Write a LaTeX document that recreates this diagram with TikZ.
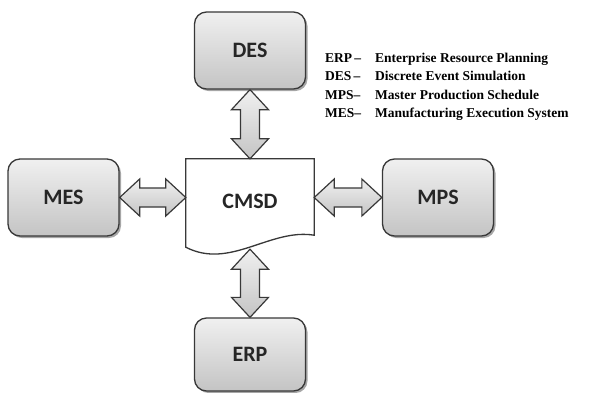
\documentclass[tikz,border=0pt]{standalone}
\usepackage{fontspec}
\setmainfont{Liberation Serif}
\newfontfamily\boxfont{Carlito}
\usetikzlibrary{calc,shadows}

\definecolor{edge}{HTML}{383838}
\definecolor{boxtop}{HTML}{F0F0F0}
\definecolor{boxbot}{HTML}{C4C4C4}

\tikzset{
  sysbox/.style={draw=edge, line width=1.3pt, rounded corners=12pt,
    top color=boxtop, bottom color=boxbot,
    drop shadow={shadow xshift=2pt, shadow yshift=-2pt, opacity=0.35, fill=black},
    minimum width=111pt, minimum height=77pt,
    font=\boxfont\bfseries\fontsize{22}{24}\selectfont, text=black!85},
  docbox/.style={minimum width=128pt, minimum height=90pt, inner sep=0pt,
    font=\boxfont\bfseries\fontsize{22}{24}\selectfont, text=black!85},
  % double-headed block arrow running from the start point to the target
  dblarrow/.style={draw=edge, line width=1.2pt, line join=miter,
    top color=boxtop, bottom color=boxbot,
    to path={
      -- ($(\tikztostart)!20pt!(\tikztotarget)!18.5pt!90:(\tikztotarget)$)
      -- ($(\tikztostart)!20pt!(\tikztotarget)!9.5pt!90:(\tikztotarget)$)
      -- ($(\tikztotarget)!20pt!(\tikztostart)!9.5pt!-90:(\tikztostart)$)
      -- ($(\tikztotarget)!20pt!(\tikztostart)!18.5pt!-90:(\tikztostart)$)
      -- (\tikztotarget)
      -- ($(\tikztotarget)!20pt!(\tikztostart)!18.5pt!90:(\tikztostart)$)
      -- ($(\tikztotarget)!20pt!(\tikztostart)!9.5pt!90:(\tikztostart)$)
      -- ($(\tikztostart)!20pt!(\tikztotarget)!9.5pt!-90:(\tikztotarget)$)
      -- ($(\tikztostart)!20pt!(\tikztotarget)!18.5pt!-90:(\tikztotarget)$)
      -- cycle}},
  legend/.style={anchor=base west, inner sep=0pt,
    font=\bfseries\fontsize{13.5}{15}\selectfont}
}

\begin{document}
\begin{tikzpicture}[x=1pt, y=-1pt]
  \useasboundingbox[fill=white] (0,0) rectangle (598,392);

  % systems around the central document
  \node[sysbox] (des) at (250,50.5) {DES};
  \node[sysbox] (mes) at (63.5,197.5) {MES};
  \node[sysbox] (mps) at (438,197.5) {MPS};
  \node[sysbox, minimum height=73pt] (erp) at (250,354.5) {ERP};

  % CMSD document with wavy lower edge
  \node[docbox] (cmsd) at (250,204) {\raisebox{6pt}{CMSD}};
  \draw[edge, line width=1.3pt, fill=white]
    (cmsd.north west) -- (cmsd.north east) -- ([yshift=14pt]cmsd.south east)
    .. controls (270,228) and (230,270) .. ([yshift=2pt]cmsd.south west) -- cycle;
  \node[docbox] at (cmsd) {\raisebox{6pt}{CMSD}};

  % exchanges between the document and the systems
  \draw[dblarrow] (des.south) to (cmsd.north);
  \draw[dblarrow] (erp.north) to (cmsd.south);
  \draw[dblarrow] (mes.east) to (mes.east -| cmsd.west);
  \draw[dblarrow] (mps.west -| cmsd.east) to (mps.west);

  % abbreviations
  \node[legend] (l1) at (325,62) {ERP\,--};
  \node[legend] (d1) at (375,62) {Enterprise Resource Planning};
  \node[legend] (l2) at (325,80.5) {DES\,--};
  \node[legend] (d2) at (375,80.5) {Discrete Event Simulation};
  \node[legend] (l3) at (325,99) {MPS--};
  \node[legend] (d3) at (375,99) {Master Production Schedule};
  \node[legend] (l4) at (325,117) {MES--};
  \node[legend] (d4) at (375,117) {Manufacturing Execution System};
\end{tikzpicture}
\end{document}
